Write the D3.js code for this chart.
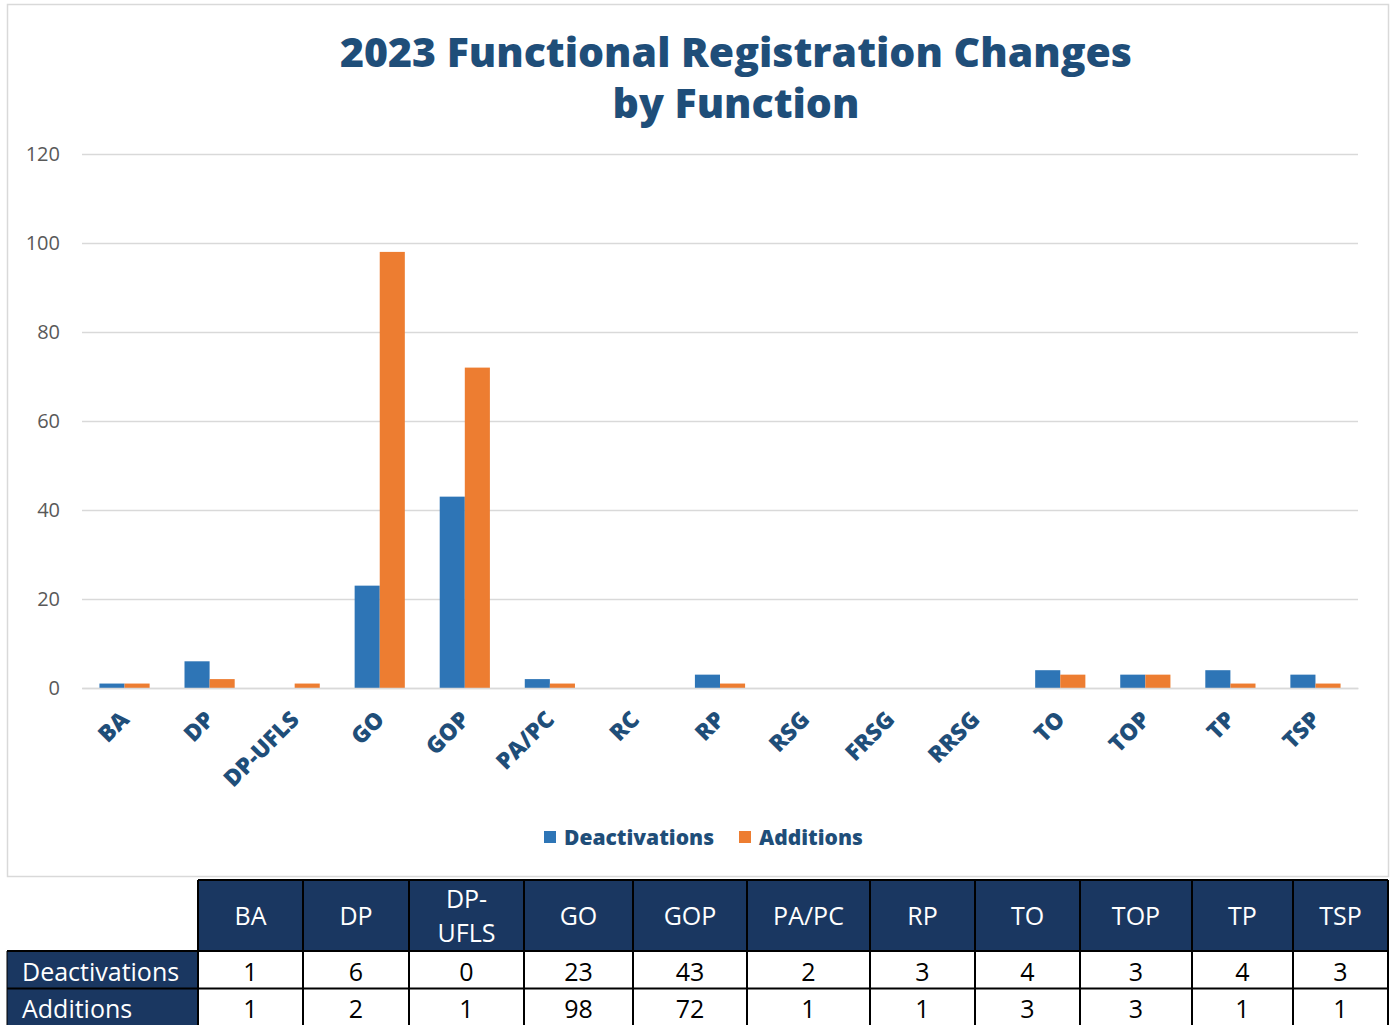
<!DOCTYPE html>
<html><head><meta charset="utf-8">
<script src="https://cdn.jsdelivr.net/npm/d3@7"></script>
<style>html,body{margin:0;padding:0;background:#fff;}</style>
</head><body>
<svg id="c" width="1392" height="1025"></svg>
<script>
const categories = ["BA","DP","DP-UFLS","GO","GOP","PA/PC","RC","RP","RSG","FRSG","RRSG","TO","TOP","TP","TSP"];
const deactivations = [1,6,0,23,43,2,0,3,0,0,0,4,3,4,3];
const additions = [1,2,1,98,72,1,0,1,0,0,0,3,3,1,1];
const seriesNames = ["Deactivations","Additions"];
const yTicks = [0,20,40,60,80,100,120];
const tableHeaderLabels = {"DP-UFLS":["DP-","UFLS"]};
const tableColWidths = [105,106,115,109,114,123,105,105,112,101,95];

const colors = ["#2E75B6","#ED7D31"];
const titleColor = "#1F4E79";
const svg = d3.select("#c");
const calibri = "'Liberation Sans Narrow','Open Sans',sans-serif";
const boldFont = "'Open Sans','Noto Sans',sans-serif";

// frame
svg.append("rect").attr("x",7.5).attr("y",4.5).attr("width",1381).attr("height",872)
  .attr("fill","#fff").attr("stroke","#d9d9d9").attr("stroke-width",1.5);

// title
const title = svg.append("text").attr("text-anchor","middle").attr("fill",titleColor)
  .attr("font-family",boldFont).attr("font-weight",800).attr("font-size",41);
title.append("tspan").attr("x",736).attr("y",67).text("2023 Functional Registration Changes");
title.append("tspan").attr("x",736).attr("y",118).text("by Function");

// scales
const x = d3.scaleBand().domain(categories).range([82,1358]).paddingInner(0.41).paddingOuter(0.205);
const xs = d3.scaleBand().domain(seriesNames).range([0,x.bandwidth()]);
const y = d3.scaleLinear().domain([0,120]).range([688,154]);

// grid
const gridG = svg.append("g").attr("transform","translate(82,0)")
  .call(d3.axisLeft(y).tickValues(yTicks).tickSize(-1276).tickFormat(""));
gridG.select(".domain").remove();
gridG.selectAll(".tick line").attr("stroke","#d9d9d9").attr("stroke-width",1.3);

// y labels
svg.append("g").selectAll("text").data(yTicks).join("text")
  .attr("x",60).attr("y",d=>y(d)+7).attr("text-anchor","end")
  .attr("font-family","'Open Sans',sans-serif").attr("font-size",20).attr("fill","#595959")
  .text(d=>d);

// bars
const rows = categories.map((c,i)=>({cat:c, vals:[deactivations[i],additions[i]]}));
const groups = svg.append("g").selectAll("g").data(rows).join("g")
  .attr("transform",d=>`translate(${x(d.cat)},0)`);
groups.selectAll("rect").data(d=>d.vals.map((v,j)=>({v,name:seriesNames[j],j}))).join("rect")
  .attr("x",d=>xs(d.name)).attr("width",xs.bandwidth())
  .attr("y",d=>y(d.v)).attr("height",d=>y(0)-y(d.v))
  .attr("fill",d=>colors[d.j]);

// x axis baseline
const xAxisG = svg.append("g").attr("transform","translate(0,688)")
  .call(d3.axisBottom(x).tickSize(0).tickFormat(""));
xAxisG.select(".domain").attr("stroke","#d9d9d9").attr("stroke-width",1.5);

// category labels
svg.append("g").selectAll("text").data(categories).join("text")
  .attr("transform",d=>`translate(${x(d)+x.bandwidth()/2+6},${721}) rotate(-45)`)
  .attr("text-anchor","end").attr("font-family",boldFont).attr("font-weight",800)
  .attr("font-size",23).attr("fill",titleColor).text(d=>d);

// legend
const legend = svg.append("g");
const legendPos = [[544,564],[739,759]];
seriesNames.forEach((n,i)=>{
  legend.append("rect").attr("x",legendPos[i][0]).attr("y",831).attr("width",12).attr("height",12).attr("fill",colors[i]);
  legend.append("text").attr("x",legendPos[i][1]).attr("y",845).attr("font-family",boldFont)
    .attr("font-weight",800).attr("font-size",21).attr("fill",titleColor).text(n);
});

// table
const tableRows = categories.map((c,i)=>({cat:c,d:deactivations[i],a:additions[i]})).filter(r=>r.d+r.a>0);
const navy = "#1A3761";
const tx0 = 198, ty0 = 880, hH = 71, rH = 37.5;
let xpos = tx0;
const colX = tableColWidths.map(w=>{const p=xpos; xpos+=w; return p;});
const tg = svg.append("g");
[["Deactivations",ty0+hH],["Additions",ty0+hH+rH]].forEach(([lab,yy])=>{
  tg.append("rect").attr("x",7).attr("y",yy).attr("width",tx0-7).attr("height",rH).attr("fill",navy);
  tg.append("text").attr("x",22).attr("y",yy+rH/2+11).attr("fill","#fff")
    .attr("font-family",calibri).attr("font-size",25).text(lab);
});
tg.append("rect").attr("x",tx0).attr("y",ty0).attr("width",xpos-tx0).attr("height",hH).attr("fill",navy);
tableRows.forEach((r,i)=>{
  const cx = colX[i]+tableColWidths[i]/2;
  const lines = tableHeaderLabels[r.cat]||[r.cat];
  const t = tg.append("text").attr("text-anchor","middle").attr("fill","#fff")
    .attr("font-family",calibri).attr("font-size",25);
  lines.forEach((l,k)=>t.append("tspan").attr("x",cx)
    .attr("y",ty0+hH/2+9+(k-(lines.length-1)/2)*34).text(l));
  [r.d,r.a].forEach((v,k)=>{
    tg.append("text").attr("x",cx).attr("y",ty0+hH+k*rH+rH/2+11).attr("text-anchor","middle")
      .attr("fill","#000").attr("font-family",calibri).attr("font-size",25).text(v);
  });
});
const bc = "#000";
colX.concat([xpos]).forEach((cx,i)=>{
  tg.append("line").attr("x1",cx).attr("x2",cx).attr("y1",ty0).attr("y2",1025)
    .attr("stroke",bc).attr("stroke-width",2);
});
[ty0+hH, ty0+hH+rH].forEach(yy=>{
  tg.append("line").attr("x1",7).attr("x2",xpos).attr("y1",yy).attr("y2",yy).attr("stroke",bc).attr("stroke-width",2);
});
tg.append("line").attr("x1",tx0).attr("x2",xpos).attr("y1",ty0).attr("y2",ty0).attr("stroke",bc).attr("stroke-width",2);
tg.append("line").attr("x1",7).attr("x2",7).attr("y1",ty0+hH).attr("y2",1025).attr("stroke",bc).attr("stroke-width",1);
</script>
</body></html>
